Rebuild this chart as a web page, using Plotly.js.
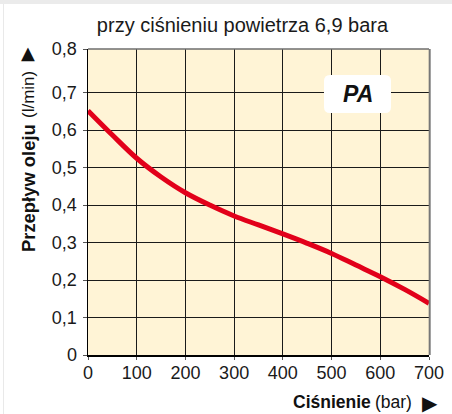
<!DOCTYPE html>
<html>
<head>
<meta charset="utf-8">
<script src="https://cdn.plot.ly/plotly-3.0.1.min.js"></script>
<style>
html,body{margin:0;padding:0;background:#fff;}
#chart{width:452px;height:414px;position:absolute;left:0;top:0;}
#topband{position:absolute;left:0;top:0;width:452px;height:4px;background:#ebebeb;z-index:5;}
#leftline{position:absolute;left:3px;top:4px;width:1px;height:410px;background:#e9e9e9;z-index:5;}
</style>
</head>
<body>
<div id="chart"></div>
<div id="topband"></div>
<div id="leftline"></div>
<script>
// Data
const pressure = [0, 50, 100, 150, 200, 250, 300, 350, 400, 450, 500, 550, 600, 650, 700];
const oilFlow  = [0.652, 0.587, 0.525, 0.475, 0.433, 0.400, 0.371, 0.347, 0.323, 0.298, 0.271, 0.240, 0.209, 0.175, 0.138];

const xTickVals = [0, 100, 200, 300, 400, 500, 600, 700];
const xTickText = ['0', '100', '200', '300', '400', '500', '600', '700'];
// top gridline of the original is drawn slightly farther than one step above 0,7
const yTop = 0.8166;
const yTickVals = [0, 0.1, 0.2, 0.3, 0.4, 0.5, 0.6, 0.7, yTop];
const yTickText = ['0', '0,1', '0,2', '0,3', '0,4', '0,5', '0,6', '0,7', '0,8'];

const titleText = 'przy ciśnieniu powietrza 6,9 bara';
const labelText = 'PA';
const yTitleBold = 'Przepływ oleju';
const yTitleUnit = '(l/min)';
const xTitleBold = 'Ciśnienie';
const xTitleUnit = '(bar)';

// plot-area pixel helpers (for placing labels only)
const L = 88, W = 341, B = 355, H = 306;
const px = v => (v - L) / W;
const py = v => (B - v) / H;

// rounded white box for the PA label (paper coords)
const bx0 = px(324), bx1 = px(391), by0 = py(113), by1 = py(75), rx = 6 / W, ry = 6 / H;
const boxPath = `M ${bx0+rx},${by1} L ${bx1-rx},${by1} Q ${bx1},${by1} ${bx1},${by1-ry} L ${bx1},${by0+ry} Q ${bx1},${by0} ${bx1-rx},${by0} L ${bx0+rx},${by0} Q ${bx0},${by0} ${bx0},${by0+ry} L ${bx0},${by1-ry} Q ${bx0},${by1} ${bx0+rx},${by1} Z`;

const trace = {
  x: pressure, y: oilFlow, type: 'scatter', mode: 'lines',
  line: {color: '#e2001a', width: 5, shape: 'spline', smoothing: 1},
  hoverinfo: 'skip'
};

const ann = (text, x, y, opts) => Object.assign({
  text, xref: 'paper', yref: 'paper', x, y, xanchor: 'center', yanchor: 'middle',
  showarrow: false, borderpad: 0
}, opts);

const layout = {
  width: 452, height: 414,
  margin: {l: L, r: 452 - L - W, t: B - H, b: 414 - B, pad: 0},
  paper_bgcolor: 'rgba(0,0,0,0)',
  plot_bgcolor: '#fff4d6',
  showlegend: false,
  font: {family: 'Liberation Sans, Arial, sans-serif', size: 18, color: '#1a1a1a'},
  title: {
    text: titleText, font: {size: 20, color: '#1a1a1a'},
    xref: 'container', yref: 'container', x: 242.5/452, y: 1 - 25/414,
    xanchor: 'center', yanchor: 'middle'
  },
  xaxis: {
    range: [0, 700], tickvals: xTickVals, ticktext: xTickText,
    showgrid: true, gridcolor: '#1a1a1a', gridwidth: 1,
    showline: true, linecolor: '#000', linewidth: 1.5,
    ticks: 'outside', ticklen: 3, tickcolor: '#555', tickwidth: 1,
    ticklabelstandoff: -2,
    zeroline: false, fixedrange: true,
    tickfont: {size: 18, color: '#1a1a1a'}
  },
  yaxis: {
    range: [0, yTop], tickvals: yTickVals, ticktext: yTickText,
    showgrid: true, gridcolor: '#1a1a1a', gridwidth: 1,
    showline: true, linecolor: '#000', linewidth: 1.5,
    ticks: 'outside', ticklen: 4, tickcolor: '#555', tickwidth: 1,
    ticklabelstandoff: 2,
    zeroline: false, fixedrange: true,
    tickfont: {size: 18, color: '#1a1a1a'}
  },
  shapes: [
    {type: 'line', xref: 'paper', yref: 'paper', x0: 0, x1: 1, y0: 1, y1: 1,
     line: {color: '#6e6e6e', width: 1.5}, layer: 'above'},
    {type: 'line', xref: 'paper', yref: 'paper', x0: 1.002, x1: 1.002, y0: 0, y1: 1,
     line: {color: '#777', width: 2}, layer: 'above'},
    {type: 'path', xref: 'paper', yref: 'paper', path: boxPath,
     fillcolor: '#ffffff', line: {width: 0}, layer: 'above'}
  ],
  annotations: [
    ann('<b><i>' + labelText + '</i></b>', px(357.5), py(94), {font: {size: 23, color: '#111'}}),
    ann('<b>' + yTitleBold + '</b>', px(28), py(188), {textangle: -90, font: {size: 18.4, color: '#111'}}),
    ann(yTitleUnit, px(28), py(95), {textangle: -90, font: {size: 17, color: '#111'}}),
    ann('▲', px(27.5), py(53), {font: {family: 'DejaVu Sans', size: 18, color: '#111'}}),
    ann('<b>' + xTitleBold + '</b>', px(331.5), py(402.5), {font: {size: 17.5, color: '#111'}}),
    ann(xTitleUnit, px(393.5), py(402.5), {font: {size: 17.5, color: '#111'}}),
    ann('▶', px(430), py(403.5), {font: {family: 'DejaVu Sans', size: 20, color: '#111'}})
  ]
};

Plotly.newPlot('chart', [trace], layout, {displayModeBar: false, staticPlot: true});
</script>
</body>
</html>
